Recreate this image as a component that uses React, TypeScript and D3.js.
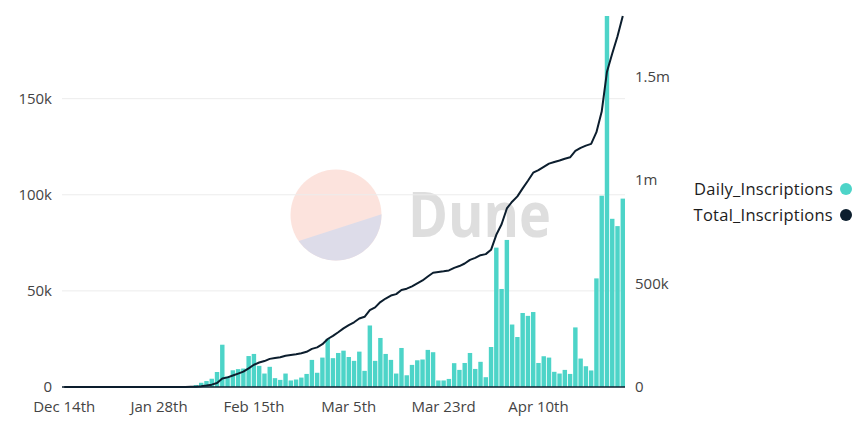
import * as d3 from "d3";

// first inscription day, then the daily run from Jan 11 to Apr 26
const firstDay = new Date(2022, 11, 14);
const dailyStart = new Date(2023, 0, 11);
const dailyEnd = new Date(2023, 3, 27);

const days: Date[] = [firstDay, ...d3.timeDay.range(dailyStart, dailyEnd)];

const dailyInscriptions = [
    0, 0, 0, 0, 0, 0, 0, 0, 0, 0, 0, 0, 0, 0, 0, 0, 0, 0, 0, 0, 0, 0, 0,
    200, 500, 1000,
    2200, 3100, 4300, 7800, 22000, 5500, 8700, 9300, 9600, 16100, 17200, 11000, 7000,
    10500, 4600, 3700, 7000, 3400, 3900, 4900, 6800, 14100, 7400, 15300, 25000,
    15000, 17700, 18900, 15600, 13600, 18400, 8400, 32000, 13600, 25500, 17200, 14100,
    7000, 20300, 6100, 11500, 13900, 14300, 19300, 18100, 3400, 3400, 4200, 12400,
    8900, 12500, 17700,
    9400, 13100, 5100, 20800, 72500, 51000, 76500, 32500, 26000, 38500, 37000, 39000,
    12500, 16000, 15300, 7900, 7000, 8900, 6800, 31000, 14800, 10800, 8600, 56500,
    99500, 193000, 87500, 83700, 98000,
];

const totalInscriptions = Array.from(d3.cumsum(dailyInscriptions));

const tickLabels = ["Dec 14th", "Jan 28th", "Feb 15th", "Mar 5th", "Mar 23rd", "Apr 10th"];
const tickEvery = 18;

const leftTicks = [0, 50000, 100000, 150000];
const rightTicks = [0, 500000, 1000000, 1500000];

const series = [
    { name: "Daily_Inscriptions", color: "#4dd4c8" },
    { name: "Total_Inscriptions", color: "#0c1e2e" },
];

const WIDTH = 857;
const HEIGHT = 423;
const PLOT = { left: 62, right: 625, top: 16, bottom: 387 };
const FONT = "'Open Sans', 'Noto Sans', sans-serif";

const fmtLeft = (v: number) => (v === 0 ? "0" : `${v / 1000}k`);
const fmtRight = (v: number) =>
    v === 0 ? "0" : v >= 1000000 ? `${v / 1000000}m` : `${v / 1000}k`;

export default function App() {
    const x = d3
        .scaleBand<number>()
        .domain(d3.range(days.length))
        .range([PLOT.left, PLOT.right])
        .paddingInner(0.16)
        .paddingOuter(0);

    const yLeft = d3
        .scaleLinear()
        .domain([0, d3.max(dailyInscriptions)!])
        .range([PLOT.bottom, PLOT.top]);

    const yRight = d3
        .scaleLinear()
        .domain([0, d3.max(totalInscriptions)!])
        .range([PLOT.bottom, PLOT.top]);

    const line = d3
        .line<number>()
        .x((_, i) => x(i)! + x.bandwidth() / 2)
        .y((d) => yRight(d));

    // Dune watermark: circle split by a slanted chord
    const logo = { cx: 336, cy: 215, r: 45.5 };
    const a1 = (145 * Math.PI) / 180;
    const a2 = (-1 * Math.PI) / 180;
    const p1 = [logo.cx + logo.r * Math.cos(a1), logo.cy + logo.r * Math.sin(a1)];
    const p2 = [logo.cx + logo.r * Math.cos(a2), logo.cy + logo.r * Math.sin(a2)];

    return (
        <svg
            width={WIDTH}
            height={HEIGHT}
            style={{ position: "absolute", left: 0, top: 0, background: "#fff" }}
            fontFamily={FONT}
        >
            <g opacity={0.85}>
                <circle cx={logo.cx} cy={logo.cy} r={logo.r} fill="#fcdfd8" />
                <path
                    d={`M${p1[0]},${p1[1]} A${logo.r},${logo.r} 0 0 0 ${p2[0]},${p2[1]} Z`}
                    fill="#d8d7e6"
                />
                <text
                    x={408}
                    y={237}
                    fontSize={62}
                    fontWeight={700}
                    fill="#d9d9d9"
                    textLength={143}
                    lengthAdjust="spacingAndGlyphs"
                >
                    Dune
                </text>
            </g>

            {leftTicks.slice(1).map((t) => (
                <line
                    key={t}
                    x1={PLOT.left}
                    x2={PLOT.right}
                    y1={yLeft(t)}
                    y2={yLeft(t)}
                    stroke="#ececec"
                    strokeWidth={1}
                />
            ))}

            {dailyInscriptions.map((d, i) => (
                <rect
                    key={i}
                    x={x(i)}
                    y={yLeft(d)}
                    width={x.bandwidth()}
                    height={PLOT.bottom - yLeft(d)}
                    fill={series[0].color}
                />
            ))}

            <path
                d={line(totalInscriptions)!}
                fill="none"
                stroke={series[1].color}
                strokeWidth={2}
                strokeLinejoin="round"
            />

            <line
                x1={PLOT.left}
                x2={PLOT.right}
                y1={PLOT.bottom}
                y2={PLOT.bottom}
                stroke="#0c1e2e"
                strokeWidth={1.5}
            />

            {leftTicks.map((t) => (
                <text
                    key={t}
                    x={52}
                    y={yLeft(t)}
                    dy="0.35em"
                    textAnchor="end"
                    fontSize={15}
                    fill="#444"
                >
                    {fmtLeft(t)}
                </text>
            ))}

            {rightTicks.map((t) => (
                <text
                    key={t}
                    x={635}
                    y={yRight(t)}
                    dy="0.35em"
                    fontSize={15}
                    fill="#444"
                >
                    {fmtRight(t)}
                </text>
            ))}

            {tickLabels.map((label, k) => (
                <text
                    key={label}
                    x={x(k * tickEvery)! + x.bandwidth() / 2}
                    y={412}
                    textAnchor="middle"
                    fontSize={15}
                    fill="#444"
                >
                    {label}
                </text>
            ))}

            {series.map((s, k) => (
                <g key={s.name} transform={`translate(0, ${189 + k * 26})`}>
                    <text
                        x={833}
                        dy="0.35em"
                        textAnchor="end"
                        fontSize={16.5}
                        letterSpacing={0.25}
                        fill="#1c1c1c"
                    >
                        {s.name}
                    </text>
                    <circle cx={846} cy={0} r={6} fill={s.color} />
                </g>
            ))}
        </svg>
    );
}
